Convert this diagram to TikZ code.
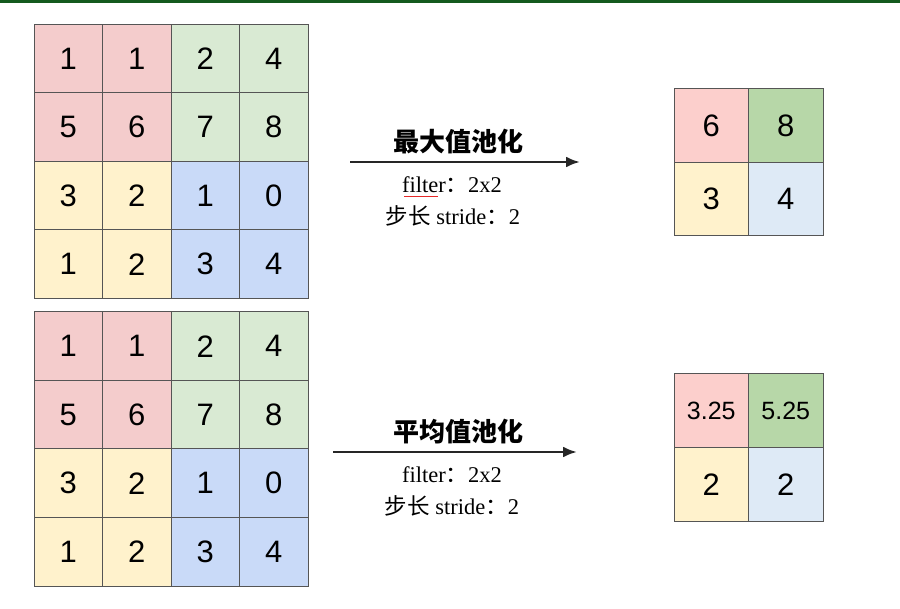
\documentclass[tikz,border=0pt]{standalone}
\usepackage{fontspec}
\setmainfont{Liberation Serif}
\newfontfamily\cjk{Noto Sans CJK SC}
\newfontfamily\digitfont{Liberation Sans}
\usetikzlibrary{arrows.meta,positioning}
\definecolor{TopBar}{RGB}{20,90,30}
\definecolor{GridLine}{RGB}{85,85,85}
\definecolor{q0}{RGB}{244,204,204}
\definecolor{q1}{RGB}{217,234,211}
\definecolor{q2}{RGB}{255,242,204}
\definecolor{q3}{RGB}{201,218,248}
\definecolor{s0}{RGB}{252,207,204}
\definecolor{s1}{RGB}{183,215,168}
\definecolor{s2}{RGB}{255,242,204}
\definecolor{s3}{RGB}{222,234,246}
\definecolor{SpellRed}{RGB}{230,40,40}
\tikzset{
  cell/.style={rectangle,draw=GridLine,line width=1pt,inner sep=0pt,
               minimum width=68.5pt,minimum height=68.5pt,
               font=\digitfont\fontsize{31}{34}\selectfont},
  rcell/.style={cell,minimum width=74.5pt,minimum height=73.5pt},
  small/.style={font=\digitfont\fontsize{25}{30}\selectfont},
  title/.style={font=\cjk\bfseries\fontsize{26}{30}\selectfont},
  info/.style={font=\fontsize{22.5}{26}\selectfont},
  parr/.style={-{Latex[length=14pt,width=11pt]},line width=2.7pt,black!85},
}
\begin{document}
\begin{tikzpicture}[x=1pt,y=-1pt]
  \useasboundingbox (0,0) rectangle (900,609);
  \fill[TopBar] (0,0) rectangle (900,3.5);
  % input feature maps
  \foreach \g/\yy in {a/24.5,b/312}{
    \foreach \v [count=\k from 0] in {1,1,2,4,5,6,7,8,3,2,1,0,1,2,3,4}{
      \pgfmathtruncatemacro\r{\k/4}
      \pgfmathtruncatemacro\c{mod(\k,4)}
      \pgfmathtruncatemacro\q{2*int(\r/2)+int(\c/2)}
      \node[cell,fill=q\q] (\g-\r-\c) at (68.25+68.5*\c,\yy+34.25+68.5*\r) {\v};
    }
  }
  % pooled outputs
  \foreach \v [count=\k from 0] in {6,8,3,4}{
    \pgfmathtruncatemacro\r{\k/2}
    \pgfmathtruncatemacro\c{mod(\k,2)}
    \node[rcell,fill=s\k] (m-\r-\c) at (711.25+74.5*\c,125.75+73.5*\r) {\v};
  }
  \node[rcell,fill=s0,small] (p-0-0) at (711.25,410.75) {3.25};
  \node[rcell,fill=s1,small] (p-0-1) at (785.75,410.75) {5.25};
  \node[rcell,fill=s2] (p-1-0) at (711.25,484.25) {2};
  \node[rcell,fill=s3] (p-1-1) at (785.75,484.25) {2};
  % max pooling
  \coordinate (maxs) at (350,162);
  \coordinate (maxe) at (580,162);
  \draw[parr] (maxs) -- (maxe);
  \node[title] (maxt) at (458,142) {最大值池化};
  \node[info] (maxf) at (452,185) {filter{\cjk ：}2x2};
  \node[info] (maxd) at (453,216) {{\cjk 步长} stride{\cjk ：}2};
  \draw[SpellRed,line width=1.2pt] ([xshift=6pt,yshift=-4pt]maxf.base west) -- ++(34,0);
  % average pooling
  \coordinate (avgs) at (333,452);
  \coordinate (avge) at (577,452);
  \draw[parr] (avgs) -- (avge);
  \node[title] (avgt) at (458,432) {平均值池化};
  \node[info] (avgf) at (452,475) {filter{\cjk ：}2x2};
  \node[info] (avgd) at (452,506) {{\cjk 步长} stride{\cjk ：}2};
\end{tikzpicture}
\end{document}
